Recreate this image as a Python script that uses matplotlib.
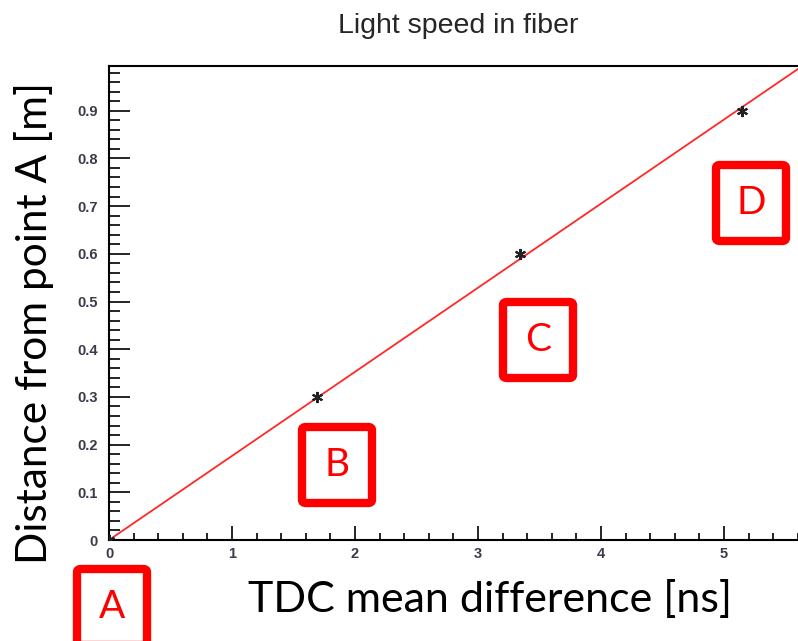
import numpy as np
import matplotlib.pyplot as plt
from matplotlib.patches import FancyBboxPatch
from matplotlib.ticker import MultipleLocator

# datos: diferencia media TDC [ns] vs distancia desde A [m]
tdc_ns = [0.0, 1.69, 3.34, 5.15]
dist_m = [0.0, 0.30, 0.60, 0.90]
point_labels = ['A', 'B', 'C', 'D']

W, H = 798, 641
fig = plt.figure(figsize=(W / 100, H / 100), dpi=100)
ax = fig.add_axes([109 / W, 1 - 540 / H, 1 - 109 / W + 0.01, (540 - 66) / H])

# ajuste lineal que pasa por el origen
slope = np.sum(np.array(tdc_ns) * np.array(dist_m)) / np.sum(np.array(tdc_ns) ** 2)
x_fit = np.linspace(0, 5.7, 50)
ax.plot(x_fit, slope * x_fit, color='#ff2828', linewidth=1.3, zorder=2)
ax.plot(tdc_ns, dist_m, linestyle='none', marker=(6, 2, 0), markersize=8,
        color='#222222', markeredgewidth=1.5, zorder=3)

ax.set_xlim(0, (W - 109) / 123 + 0.01 * W / 123)
ax.set_ylim(0, (540 - 66) / 47.7 / 10)
ax.spines['right'].set_visible(False)
for s in ['left', 'bottom', 'top']:
    ax.spines[s].set_linewidth(1.5)

ax.xaxis.set_major_locator(MultipleLocator(1))
ax.xaxis.set_minor_locator(MultipleLocator(0.2))
ax.yaxis.set_major_locator(MultipleLocator(0.1))
ax.yaxis.set_minor_locator(MultipleLocator(0.02))
ax.tick_params(axis='x', which='major', direction='in', length=10, width=1.2, pad=5)
ax.tick_params(axis='x', which='minor', direction='in', length=5, width=1.2)
ax.tick_params(axis='y', which='major', direction='in', length=15, width=1.2, pad=8)
ax.tick_params(axis='y', which='minor', direction='in', length=8, width=1.2)
ax.tick_params(top=False, right=False, which='both')
ax.set_xticks(range(0, 6))
ax.set_xticklabels([str(i) for i in range(0, 6)])
yt = np.round(np.arange(0, 1.0, 0.1), 1)
ax.set_yticks(yt)
ax.set_yticklabels(['0'] + [f'{v:.1f}' for v in yt[1:]])
for lab in ax.get_xticklabels() + ax.get_yticklabels():
    lab.set_fontfamily('Liberation Sans')
    lab.set_fontsize(10.5)
    lab.set_fontweight('bold')
    lab.set_color('#3a3a4a')

fig.text(458 / W, 1 - 26 / H, 'Light speed in fiber', ha='center', va='center',
         fontsize=20.5, color='#262626', family='Liberation Sans')
fig.text(490 / W, 1 - 600 / H, 'TDC mean difference [ns]', ha='center', va='center',
         fontsize=31, family='Lato')
fig.text(34 / W, 1 - 323 / H, 'Distance from point A [m]', ha='center', va='center',
         fontsize=30.5, family='Lato', rotation=90)

# cajas rojas con las letras de los puntos
box_centers = [(112, 607), (337, 465), (538, 340), (751, 203)]
bw, bh = 70, 76
for (cx, cy), lab in zip(box_centers, point_labels):
    box = FancyBboxPatch(((cx - bw / 2) / W, 1 - (cy + bh / 2) / H), bw / W, bh / H,
                         boxstyle='round,pad=0,rounding_size=0.005',
                         transform=fig.transFigure, facecolor='white',
                         edgecolor='#ff0000', linewidth=6, clip_on=False)
    fig.add_artist(box)
    fig.text(cx / W, 1 - cy / H, lab, ha='center', va='center', fontsize=28,
             color='#ff0000', family='Lato')

fig.savefig('out.png', dpi=100)
